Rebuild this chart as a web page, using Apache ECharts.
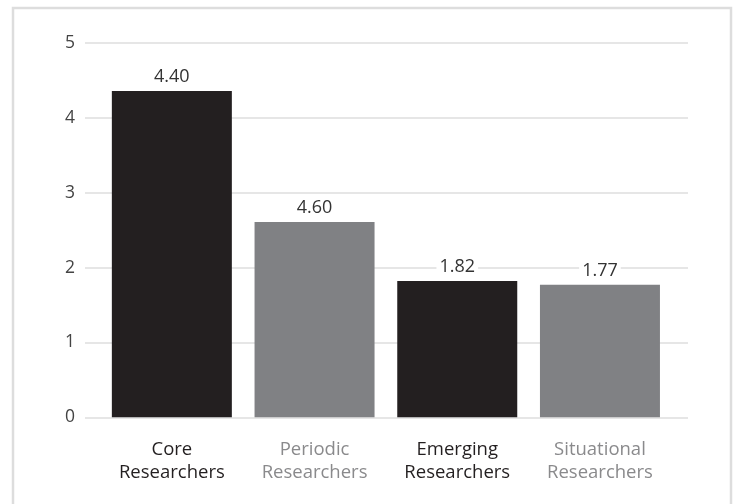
<!DOCTYPE html>
<html>
<head>
<meta charset="utf-8">
<script src="https://cdn.jsdelivr.net/npm/echarts@6/dist/echarts.min.js"></script>
<style>
  html, body { margin: 0; padding: 0; background: #fff; }
  #chart { width: 738px; height: 504px; }
</style>
</head>
<body>
<div id="chart"></div>
<script>
// data
const categories = ["Core\nResearchers", "Periodic\nResearchers", "Emerging\nResearchers", "Situational\nResearchers"];
const barValues = [4.36, 2.61, 1.82, 1.77];
// printed labels (as they appear in the source, even where they differ from the bar height)
const barLabels = ["4.40", "4.60", "1.82", "1.77"];
const yTicks = [0, 1, 2, 3, 4, 5];

const darkColor = "#231f20";
const greyColor = "#808184";
const fontFamily = "'Open Sans', sans-serif";

const chart = echarts.init(document.getElementById("chart"));
chart.setOption({
  animation: false,
  backgroundColor: "#fff",
  graphic: [
    {
      type: "rect",
      shape: { x: 13, y: 8, width: 718, height: 520 },
      style: { fill: "none", stroke: "#dddddd", lineWidth: 2.5 },
      silent: true,
    },
  ],
  grid: [
    // gridlines + y labels
    { left: 85, right: 50, top: 43, bottom: 86.7 },
    // bars
    { left: 100.5, right: 66.7, top: 43, bottom: 86.7 },
  ],
  xAxis: [
    {
      gridIndex: 0,
      type: "value",
      min: 0,
      max: 1,
      show: false,
    },
    {
      gridIndex: 1,
      type: "category",
      data: categories,
      axisLine: { show: false },
      axisTick: { show: false },
      axisLabel: {
        margin: 21,
        fontFamily: fontFamily,
        fontSize: 18.5,
        lineHeight: 23,
        color: function (value, index) {
          return index % 2 === 0 ? "#231f20" : "#8a8a8c";
        },
      },
    },
  ],
  yAxis: [
    {
      gridIndex: 0,
      type: "value",
      min: 0,
      max: 5,
      interval: 1,
      axisLine: { show: false },
      axisTick: { show: false },
      axisLabel: {
        margin: 10,
        fontFamily: fontFamily,
        fontSize: 17.5,
        color: "#444",
        formatter: function (v) {
          return yTicks.indexOf(v) >= 0 ? String(v) : "";
        },
      },
      splitLine: {
        lineStyle: { color: "#e6e6e6", width: 2 },
      },
    },
    {
      gridIndex: 1,
      type: "value",
      min: 0,
      max: 5,
      interval: 1,
      show: false,
    },
  ],
  series: [
    {
      type: "bar",
      xAxisIndex: 1,
      yAxisIndex: 1,
      barWidth: 120,
      data: barValues.map((v, i) => ({
        value: v,
        itemStyle: { color: i % 2 === 0 ? darkColor : greyColor },
      })),
      label: {
        show: true,
        position: "top",
        distance: 5,
        fontFamily: fontFamily,
        fontSize: 18,
        color: "#333",
        backgroundColor: "#fff",
        padding: [0, 3],
        formatter: function (p) {
          return barLabels[p.dataIndex];
        },
      },
    },
  ],
});
</script>
</body>
</html>
